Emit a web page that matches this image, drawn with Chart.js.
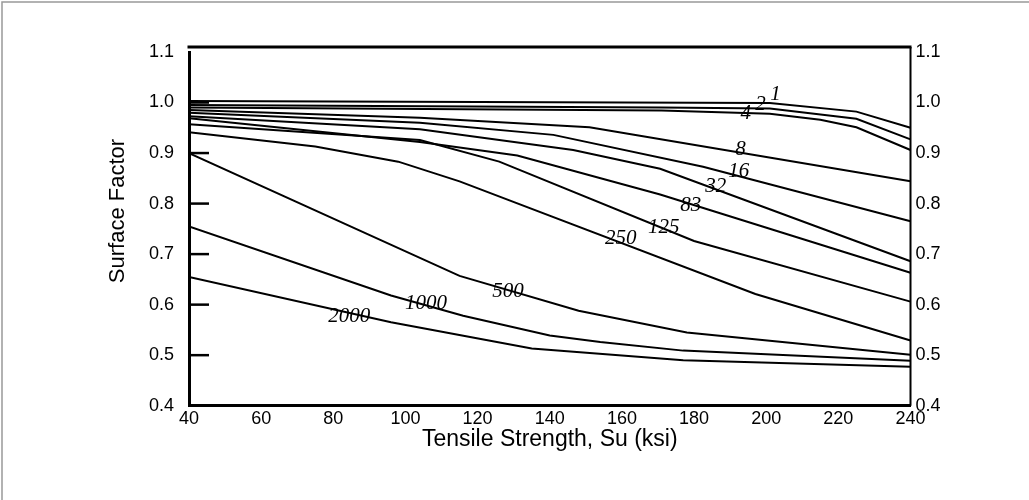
<!DOCTYPE html>
<html>
<head>
    <meta charset="UTF-8">
    <title>Surface Factor</title>
    <style>
        body {
            margin: 0;
            padding: 0;
            background-color: #fff;
        }
        #wrap {
            position: relative;
            width: 1029px;
            height: 500px;
        }
    </style>
</head>
<body>
    <div id="wrap"><canvas id="myChart" width="1029" height="500"></canvas></div>

    <script src="https://cdn.jsdelivr.net/npm/chart.js"></script>
    <script>
        // Curvas: [Su (ksi), factor de superficie]
        var c1 = [[40, 1.003], [201, 0.999], [225, 0.982], [240, 0.950]];
        var c2 = [[40, 0.995], [171, 0.990], [201, 0.988], [225, 0.968], [240, 0.927]];
        var c4 = [[40, 0.990], [171, 0.984], [201, 0.978], [215, 0.966], [225, 0.951], [240, 0.906]];
        var c8 = [[40, 0.985], [104, 0.970], [151, 0.951], [240, 0.844]];
        var c16 = [[40, 0.980], [104, 0.960], [141, 0.936], [182.5, 0.873], [240, 0.765]];
        var c32 = [[40, 0.973], [104, 0.947], [146.5, 0.906], [170.6, 0.869], [240, 0.686]];
        var c83 = [[40, 0.969], [104, 0.922], [131, 0.895], [170.6, 0.818], [240, 0.663]];
        var c125 = [[40, 0.957], [104, 0.926], [126, 0.883], [180, 0.726], [240, 0.606]];
        var c250 = [[40, 0.941], [75, 0.913], [98, 0.883], [115, 0.844], [197, 0.621], [240, 0.529]];
        var c500 = [[40, 0.900], [115, 0.657], [148, 0.588], [178, 0.545], [240, 0.501]];
        var c1000 = [[40, 0.755], [96, 0.618], [116, 0.578], [140, 0.539], [154, 0.526], [177, 0.509], [240, 0.489]];
        var c2000 = [[40, 0.655], [96, 0.565], [135, 0.513], [177, 0.490], [240, 0.477]];

        var curves = [c1, c2, c4, c8, c16, c32, c83, c125, c250, c500, c1000, c2000];
        var curveNames = ['1', '2', '4', '8', '16', '32', '83', '125', '250', '500', '1000', '2000'];
        // donde va cada etiqueta (en unidades de los ejes)
        var labelAt = [[202.6, 1.015], [198.4, 0.996], [194.3, 0.978], [192.9, 0.907], [192.4, 0.863],
                       [186, 0.834], [179.1, 0.797], [171.6, 0.752], [159.7, 0.730], [128.4, 0.627],
                       [105.7, 0.602], [84.4, 0.576]];

        var xTicks = [40, 60, 80, 100, 120, 140, 160, 180, 200, 220, 240];
        var yTicks = [0.4, 0.5, 0.6, 0.7, 0.8, 0.9, 1.0, 1.1];
        var innerTicks = [1.0, 0.9, 0.8, 0.7, 0.6, 0.5];

        var xTitle = 'Tensile Strength, Su (ksi)';
        var yTitle = 'Surface Factor';

        var tickFont = { family: '"Liberation Sans", Arial, sans-serif', size: 18 };

        // marco, marcas interiores, titulos y etiquetas de curvas
        var extras = {
            id: 'extras',
            afterDraw: function(chart) {
                var ctx = chart.ctx;
                var a = chart.chartArea;
                var ys = chart.scales.y, xs = chart.scales.x;
                ctx.save();
                // marco gris exterior
                ctx.strokeStyle = '#999';
                ctx.lineWidth = 1.5;
                ctx.beginPath();
                ctx.moveTo(2, 500);
                ctx.lineTo(2, 2);
                ctx.lineTo(1029, 2);
                ctx.stroke();

                // borde superior y derecho
                ctx.strokeStyle = '#000';
                ctx.lineWidth = 3;
                ctx.beginPath();
                ctx.moveTo(a.left - 1.5, a.top - 5);
                ctx.lineTo(a.right + 1, a.top - 5);
                ctx.stroke();
                ctx.lineWidth = 2;
                ctx.beginPath();
                ctx.moveTo(a.right, a.top - 5);
                ctx.lineTo(a.right, a.bottom);
                ctx.stroke();

                // marcas hacia dentro
                ctx.lineWidth = 2.5;
                innerTicks.forEach(function(v) {
                    var py = ys.getPixelForValue(v);
                    ctx.beginPath();
                    ctx.moveTo(a.left, py);
                    ctx.lineTo(a.left + 20, py);
                    ctx.stroke();
                });

                // titulos
                ctx.fillStyle = '#000';
                ctx.font = '23px "Liberation Sans", Arial, sans-serif';
                ctx.textAlign = 'center';
                ctx.textBaseline = 'middle';
                ctx.fillText(xTitle, (a.left + a.right) / 2, 440);
                ctx.font = '22px "Liberation Sans", Arial, sans-serif';
                ctx.save();
                ctx.translate(118, 211);
                ctx.rotate(-Math.PI / 2);
                ctx.fillText(yTitle, 0, 0);
                ctx.restore();

                // etiquetas de curvas
                ctx.font = 'italic 21px "Liberation Serif", "Times New Roman", serif';
                curveNames.forEach(function(n, i) {
                    ctx.fillText(n, xs.getPixelForValue(labelAt[i][0]), ys.getPixelForValue(labelAt[i][1]));
                });
                ctx.restore();
            }
        };

        var datasets = curves.map(function(c, i) {
            return {
                label: curveNames[i],
                data: c.map(function(p) { return { x: p[0], y: p[1] }; }),
                borderColor: '#000',
                borderWidth: 2,
                pointRadius: 0,
                tension: 0,
                fill: false
            };
        });

        var ctx = document.getElementById('myChart').getContext('2d');
        var chart = new Chart(ctx, {
            type: 'line',
            data: { datasets: datasets },
            options: {
                responsive: false,
                animation: false,
                layout: { padding: { top: 52, left: 0, right: 0, bottom: 0 } },
                plugins: {
                    legend: { display: false },
                    tooltip: { enabled: false }
                },
                scales: {
                    x: {
                        type: 'linear',
                        min: 40,
                        max: 240,
                        afterBuildTicks: function(s) { s.ticks = xTicks.map(function(v) { return { value: v }; }); },
                        afterFit: function(s) { s.height = 94.3; },
                        ticks: { color: '#000', font: tickFont, padding: 3, maxRotation: 0 },
                        grid: { display: false, drawTicks: false },
                        border: { display: true, color: '#000', width: 3 }
                    },
                    y: {
                        min: 0.4,
                        max: 1.1,
                        afterBuildTicks: function(s) { s.ticks = yTicks.map(function(v) { return { value: v }; }); },
                        afterFit: function(s) { s.width = 189; },
                        ticks: {
                            color: '#000', font: tickFont, padding: 15,
                            callback: function(v) { return v.toFixed(1); }
                        },
                        grid: { display: false, drawTicks: false },
                        border: { display: true, color: '#000', width: 3 }
                    },
                    y2: {
                        position: 'right',
                        min: 0.4,
                        max: 1.1,
                        afterBuildTicks: function(s) { s.ticks = yTicks.map(function(v) { return { value: v }; }); },
                        afterFit: function(s) { s.width = 118.5; },
                        ticks: {
                            color: '#000', font: tickFont, padding: 5,
                            callback: function(v) { return v.toFixed(1); }
                        },
                        grid: { display: false, drawTicks: false },
                        border: { display: false }
                    }
                }
            },
            plugins: [extras]
        });
    </script>
</body>
</html>
